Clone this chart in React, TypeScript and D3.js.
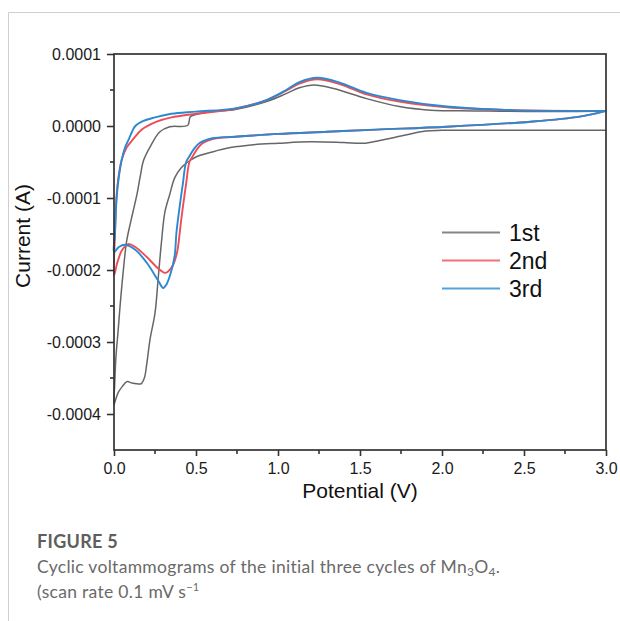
import React, { useEffect, useRef } from 'react';
import * as d3 from 'd3';

const WIDTH = 620;
const HEIGHT = 621;
const MARGIN = { top: 54, right: 14, bottom: 171, left: 114 };

// potential (V), current (1e-4 A)
const cycle1: [number, number][] = [
    [3.0, -0.06], [2.5, -0.06], [2.0, -0.06], [1.9, -0.07], [1.75, -0.14], [1.62, -0.2],
    [1.52, -0.24], [1.4, -0.23], [1.2, -0.22], [1.0, -0.24], [0.85, -0.26], [0.71, -0.3],
    [0.6, -0.36], [0.5, -0.43], [0.45, -0.5], [0.41, -0.58], [0.37, -0.72], [0.34, -0.95],
    [0.31, -1.2], [0.29, -1.6], [0.27, -2.1], [0.25, -2.6], [0.22, -2.96], [0.2, -3.3],
    [0.185, -3.5], [0.165, -3.58], [0.14, -3.58], [0.11, -3.57], [0.08, -3.55], [0.05, -3.62],
    [0.026, -3.7], [0.01, -3.8], [0.0, -3.87],
    [0.004, -3.6], [0.012, -3.2], [0.025, -2.85], [0.037, -2.5], [0.055, -2.05], [0.077, -1.6],
    [0.1, -1.35], [0.12, -1.15], [0.14, -0.95], [0.16, -0.7], [0.18, -0.48], [0.22, -0.29],
    [0.28, -0.08], [0.34, -0.01], [0.45, 0.01], [0.465, 0.13], [0.5, 0.16], [0.6, 0.2],
    [0.74, 0.23], [0.93, 0.34], [1.05, 0.45], [1.13, 0.53], [1.22, 0.57], [1.34, 0.52],
    [1.54, 0.38], [1.74, 0.27], [1.93, 0.22], [2.2, 0.21], [2.6, 0.2], [3.0, 0.21],
];

const cycle2: [number, number][] = [
    [3.0, 0.21], [2.84, 0.13], [2.54, 0.06], [2.03, -0.01], [1.6, -0.05], [1.3, -0.08],
    [1.0, -0.11], [0.74, -0.15], [0.6, -0.18], [0.54, -0.24], [0.51, -0.31], [0.48, -0.42],
    [0.46, -0.5], [0.44, -0.8], [0.43, -0.96], [0.41, -1.3], [0.4, -1.5], [0.385, -1.75],
    [0.36, -1.93], [0.33, -2.02], [0.31, -2.04], [0.27, -1.98], [0.2, -1.82], [0.13, -1.68],
    [0.087, -1.64], [0.05, -1.72], [0.02, -1.9], [0.0, -2.08],
    [0.006, -1.5], [0.012, -1.1], [0.025, -0.75], [0.047, -0.47], [0.077, -0.3], [0.118, -0.18],
    [0.17, -0.05], [0.26, 0.06], [0.35, 0.12], [0.5, 0.17], [0.74, 0.24], [0.93, 0.36],
    [1.05, 0.49], [1.13, 0.59], [1.24, 0.65], [1.38, 0.58], [1.54, 0.44], [1.74, 0.34],
    [2.03, 0.26], [2.43, 0.22], [3.0, 0.21],
];

const cycle3: [number, number][] = [
    [3.0, 0.21], [2.84, 0.13], [2.54, 0.06], [2.03, -0.01], [1.6, -0.05], [1.3, -0.08],
    [1.0, -0.11], [0.74, -0.15], [0.6, -0.17], [0.52, -0.24], [0.49, -0.31], [0.46, -0.42],
    [0.44, -0.5], [0.42, -0.8], [0.41, -0.96], [0.39, -1.3], [0.38, -1.5], [0.37, -1.8],
    [0.345, -2.05], [0.32, -2.2], [0.3, -2.25], [0.27, -2.15], [0.2, -1.9], [0.13, -1.72],
    [0.067, -1.65], [0.03, -1.68], [0.0, -1.75],
    [0.006, -1.5], [0.016, -1.0], [0.03, -0.7], [0.047, -0.47], [0.067, -0.3], [0.087, -0.2],
    [0.11, -0.08], [0.13, 0.0], [0.18, 0.07], [0.25, 0.12], [0.35, 0.17], [0.5, 0.2],
    [0.74, 0.245], [0.93, 0.36], [1.05, 0.5], [1.13, 0.61], [1.24, 0.67], [1.38, 0.6],
    [1.54, 0.46], [1.74, 0.36], [2.03, 0.27], [2.43, 0.22], [3.0, 0.21],
];

const seriesNames = ['1st', '2nd', '3rd'];
const seriesColors = ['#666666', '#ee4d57', '#2b89d0'];
const seriesData = [cycle1, cycle2, cycle3];

const xTicks = [0, 0.5, 1.0, 1.5, 2.0, 2.5, 3.0];
const yTicks = [0.0001, 0, -0.0001, -0.0002, -0.0003, -0.0004];

export default function App() {
    const svgRef = useRef<SVGSVGElement>(null);

    useEffect(() => {
        const svg = d3.select(svgRef.current);
        svg.selectAll('*').remove();

        const plotWidth = WIDTH - MARGIN.left - MARGIN.right;
        const plotHeight = HEIGHT - MARGIN.top - MARGIN.bottom;

        // caption border
        svg.append('path')
            .attr('d', `M8.5,${HEIGHT} V12.5 H${WIDTH}`)
            .attr('fill', 'none')
            .attr('stroke', '#cfcfcf')
            .attr('stroke-width', 1);

        const g = svg.append('g').attr('transform', `translate(${MARGIN.left},${MARGIN.top})`);

        const x = d3.scaleLinear().domain([0, 3]).range([0, plotWidth]);
        const y = d3.scaleLinear().domain([-0.00045, 0.0001]).range([plotHeight, 0]);

        const line = d3
            .line<[number, number]>()
            .x((d) => x(d[0]))
            .y((d) => y(d[1] * 1e-4))
            .curve(d3.curveCatmullRom.alpha(0.5));

        seriesData.forEach((data, i) => {
            g.append('path')
                .datum(data)
                .attr('fill', 'none')
                .attr('stroke', seriesColors[i])
                .attr('stroke-width', i === 0 ? 1.5 : 1.9)
                .attr('stroke-linejoin', 'round')
                .attr('d', line);
        });

        const font = 'Liberation Sans, Arial, sans-serif';

        // frame
        g.append('rect')
            .attr('width', plotWidth)
            .attr('height', plotHeight)
            .attr('fill', 'none')
            .attr('stroke', '#333')
            .attr('stroke-width', 1.7);

        const xAxis = d3
            .axisBottom(x)
            .tickValues(xTicks)
            .tickSize(6)
            .tickPadding(4)
            .tickFormat((d) => d3.format('.1f')(d as number));
        const xg = g.append('g').attr('transform', `translate(0,${plotHeight})`).call(xAxis);
        xg.select('.domain').remove();
        xg.selectAll('line').attr('stroke', '#333').attr('stroke-width', 1.6);
        xg.selectAll('text').attr('font-size', 16).attr('font-family', font).attr('fill', '#1a1a1a').attr('dy', '0.85em');

        const xMinor = d3.range(0.25, 3, 0.5);
        g.selectAll('.xminor')
            .data(xMinor)
            .join('line')
            .attr('x1', (d) => x(d))
            .attr('x2', (d) => x(d))
            .attr('y1', plotHeight)
            .attr('y2', plotHeight + 4)
            .attr('stroke', '#333')
            .attr('stroke-width', 1.6);

        const yAxis = d3
            .axisLeft(y)
            .tickValues(yTicks)
            .tickSize(7)
            .tickPadding(6)
            .tickFormat((d) => d3.format('.4f')(d as number).replace('−', '-'));
        const yg = g.append('g').call(yAxis);
        yg.select('.domain').remove();
        yg.selectAll('line').attr('stroke', '#333').attr('stroke-width', 1.6);
        yg.selectAll('text').attr('font-size', 16).attr('font-family', font).attr('fill', '#1a1a1a');

        const yMinor = [0.00005, -0.00005, -0.00015, -0.00025, -0.00035];
        g.selectAll('.yminor')
            .data(yMinor)
            .join('line')
            .attr('x1', 0)
            .attr('x2', -4)
            .attr('y1', (d) => y(d))
            .attr('y2', (d) => y(d))
            .attr('stroke', '#333')
            .attr('stroke-width', 1.6);

        // axis titles
        g.append('text')
            .attr('x', plotWidth / 2)
            .attr('y', plotHeight + 48)
            .attr('text-anchor', 'middle')
            .attr('font-size', 21)
            .attr('font-family', font)
            .attr('fill', '#111')
            .text('Potential (V)');

        g.append('text')
            .attr('transform', `translate(${-84},${182})rotate(-90)`)
            .attr('text-anchor', 'middle')
            .attr('font-size', 21)
            .attr('font-family', font)
            .attr('fill', '#111')
            .text('Current (A)');

        // legend
        const legend = g.append('g').attr('transform', `translate(${x(2.0)},${y(-0.000148)})`);
        seriesNames.forEach((name, i) => {
            const row = legend.append('g').attr('transform', `translate(0,${i * 28})`);
            row.append('line')
                .attr('x1', 0)
                .attr('x2', 58)
                .attr('stroke', seriesColors[i])
                .attr('stroke-opacity', 0.8)
                .attr('stroke-width', 2);
            row.append('text')
                .attr('x', 67)
                .attr('dy', '0.36em')
                .attr('font-size', 23)
                .attr('font-family', font)
                .attr('fill', '#111')
                .text(name);
        });

        // caption
        const cap = svg.append('g').attr('font-family', 'Lato, "Open Sans", sans-serif');
        cap.append('text')
            .attr('x', 37)
            .attr('y', 548)
            .attr('font-size', 18)
            .attr('font-weight', 700)
            .attr('letter-spacing', 0.3)
            .attr('fill', '#5e5e5e')
            .text('FIGURE 5');
        const line1 = cap.append('text')
            .attr('x', 37)
            .attr('y', 573)
            .attr('font-size', 17.5)
            .attr('letter-spacing', 0.3)
            .attr('fill', '#6a6a6a');
        line1.append('tspan').text('Cyclic voltammograms of the initial three cycles of Mn');
        line1.append('tspan').attr('font-size', 12).attr('dy', 3).text('3');
        line1.append('tspan').attr('dy', -3).text('O');
        line1.append('tspan').attr('font-size', 12).attr('dy', 3).text('4');
        line1.append('tspan').attr('dy', -3).text('.');
        const line2 = cap.append('text')
            .attr('x', 37)
            .attr('y', 598)
            .attr('font-size', 17.5)
            .attr('letter-spacing', 0.3)
            .attr('fill', '#6a6a6a');
        line2.append('tspan').text('(scan rate 0.1 mV s');
        line2.append('tspan').attr('font-size', 11).attr('dy', -7).text('−1');
    }, []);

    return (
        <svg
            ref={svgRef}
            width={WIDTH}
            height={HEIGHT}
            style={{ position: 'absolute', left: 0, top: 0, background: '#fff' }}
        />
    );
}
